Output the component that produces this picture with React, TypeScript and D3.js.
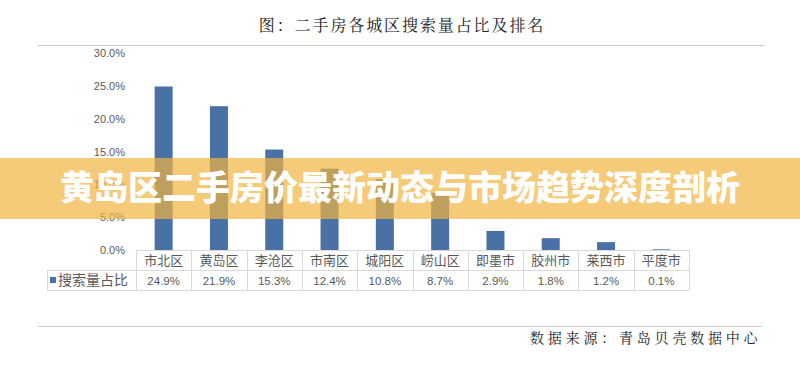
import React from "react";
import * as d3 from "d3";

const categories = ["市北区", "黄岛区", "李沧区", "市南区", "城阳区", "崂山区", "即墨市", "胶州市", "莱西市", "平度市"];
const values = [24.9, 21.9, 15.3, 12.4, 10.8, 8.7, 2.9, 1.8, 1.2, 0.1];
const yTicks = [0, 5, 10, 15, 20, 25, 30];
const seriesName = "搜索量占比";
const chartTitle = "图：二手房各城区搜索量占比及排名";
const sourceText = "数据来源：青岛贝壳数据中心";
const bannerText = "黄岛区二手房价最新动态与市场趋势深度剖析";

const W = 800;
const H = 379;
const barColor = "#4a71a6";
const gridColor = "#d9d9d9";
const textColor = "#595959";
const cjk = "'Noto Sans CJK SC', sans-serif";

export default function App() {
  const x = d3.scaleBand<string>().domain(categories).range([136, 689]).paddingInner(0).paddingOuter(0);
  const y = d3.scaleLinear().domain([0, 30]).range([250, 53]);
  const bw = 18;
  const rowH = 20;
  const tableTop = y(0);

  return (
    <svg width={W} height={H} style={{ position: "absolute", left: 0, top: 0, background: "#fff" }}>
      <rect x={0} y={0} width={W} height={H} fill="#fff" />
      {/* title */}
      <text x={402} y={31} textAnchor="middle" fontFamily="'Noto Serif CJK SC', 'Noto Sans CJK SC', serif" fontSize={16} letterSpacing={1.9} fill="#222">
        {chartTitle}
      </text>
      <line x1={38} x2={765} y1={45.5} y2={45.5} stroke="#c8c8c8" strokeWidth={1.2} />

      {/* y ticks */}
      {yTicks.map((t) => (
        <text key={t} x={125} y={y(t) + 4} textAnchor="end" fontFamily="'Liberation Sans', Arial, sans-serif" fontSize={11} fill={textColor}>
          {t.toFixed(1) + "%"}
        </text>
      ))}

      {/* bars */}
      {categories.map((c, i) => (
        <rect key={c} x={(x(c) as number) + x.bandwidth() / 2 - bw / 2} y={y(values[i])} width={bw} height={y(0) - y(values[i])} fill={barColor} />
      ))}

      {/* data table */}
      <g stroke={gridColor} strokeWidth={1} fill="none">
        <line x1={136} x2={689} y1={tableTop + 0.5} y2={tableTop + 0.5} />
        <line x1={47} x2={689} y1={tableTop + rowH + 0.5} y2={tableTop + rowH + 0.5} />
        <line x1={47} x2={689} y1={tableTop + 2 * rowH + 0.5} y2={tableTop + 2 * rowH + 0.5} />
        <line x1={47.5} x2={47.5} y1={tableTop + rowH} y2={tableTop + 2 * rowH} />
        {categories.map((c) => (
          <line key={c} x1={Math.round(x(c) as number) + 0.5} x2={Math.round(x(c) as number) + 0.5} y1={tableTop} y2={tableTop + 2 * rowH} />
        ))}
        <line x1={689.5} x2={689.5} y1={tableTop} y2={tableTop + 2 * rowH} />
      </g>
      {categories.map((c, i) => (
        <g key={c}>
          <text x={(x(c) as number) + x.bandwidth() / 2} y={tableTop + 15} textAnchor="middle" fontFamily={cjk} fontSize={13} fill={textColor}>
            {c}
          </text>
          <text x={(x(c) as number) + x.bandwidth() / 2} y={tableTop + rowH + 15} textAnchor="middle" fontFamily="'Liberation Sans', Arial, sans-serif" fontSize={11.5} fill={textColor}>
            {values[i].toFixed(1) + "%"}
          </text>
        </g>
      ))}
      <rect x={50} y={tableTop + rowH + 7} width={6} height={6} fill={barColor} />
      <text x={58} y={tableTop + rowH + 15} fontFamily={cjk} fontSize={14} fill={textColor}>
        {seriesName}
      </text>

      {/* bottom line and source */}
      <line x1={38} x2={762} y1={326.5} y2={326.5} stroke="#c8c8c8" strokeWidth={1.2} />
      <text x={530} y={343} fontFamily="'Noto Serif CJK SC', 'Noto Sans CJK SC', serif" fontSize={14} letterSpacing={3.8} fill="#222">
        {sourceText}
      </text>

      {/* banner overlay */}
      <rect x={0} y={158} width={W} height={61} fill="#f1b33e" opacity={0.7} />
      <text x={400} y={200} textAnchor="middle" fontFamily={cjk} fontWeight={800} fontSize={34} fill="#fff">
        {bannerText}
      </text>
    </svg>
  );
}
